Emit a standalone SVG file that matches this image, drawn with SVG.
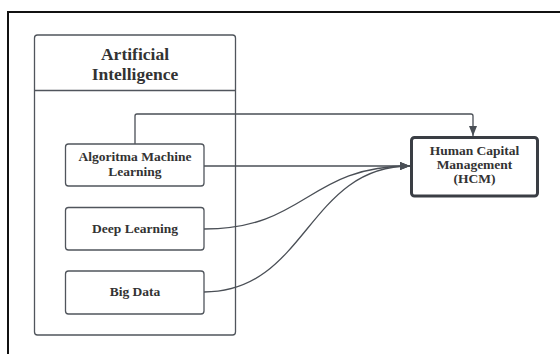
<svg xmlns="http://www.w3.org/2000/svg" width="560" height="354" viewBox="0 0 560 354">
  <defs>
    <style>
      .frame { fill: none; stroke: #111; stroke-width: 2; }
      .box { fill: #fff; stroke: #50555c; stroke-width: 1.3; }
      .hcm { fill: #fff; stroke: #3a3e44; stroke-width: 3; }
      .divider { stroke: #50555c; stroke-width: 1.3; }
      .wire { fill: none; stroke: #4a4f56; stroke-width: 1.3; }
      .label { font-family: "Liberation Serif", "Times New Roman", serif; font-weight: bold; fill: #333; text-anchor: middle; }
      .title { font-size: 17.5px; }
      .item { font-size: 13.5px; }
    </style>
    <marker id="arrow" viewBox="0 0 10 10" refX="10" refY="5" markerWidth="10" markerHeight="10" markerUnits="userSpaceOnUse" orient="auto">
      <path d="M0,1 L10,5 L0,9 Z" fill="#4a4f56"/>
    </marker>
  </defs>

  <rect width="560" height="354" fill="#fff"/>

  <!-- outer frame (top and left edges) -->
  <path class="frame" d="M8,354 V12 H560"/>

  <!-- Artificial Intelligence container -->
  <g id="ai-container">
    <rect class="box" x="34.5" y="35" width="201" height="300" rx="3"/>
    <line class="divider" x1="34.5" y1="90.5" x2="235.5" y2="90.5"/>
    <text class="label title" x="135" y="60">Artificial</text>
    <text class="label title" x="135" y="79.5">Intelligence</text>
  </g>

  <!-- connectors -->
  <g id="connectors">
    <path class="wire" d="M135,144 V116 Q135,114 137,114 H471 Q473,114 473,116 V136" marker-end="url(#arrow)"/>
    <path class="wire" d="M204,166 H410" marker-end="url(#arrow)"/>
    <path class="wire" d="M204,229 C307,229 307,166 410,166" marker-end="url(#arrow)"/>
    <path class="wire" d="M204,292 C307,292 307,166 410,166" marker-end="url(#arrow)"/>
  </g>

  <g id="node-algoritma">
    <rect class="box" x="65.5" y="144" width="138.5" height="42" rx="3"/>
    <text class="label item" x="135" y="160.8">Algoritma Machine</text>
    <text class="label item" x="135" y="175.5">Learning</text>
  </g>

  <g id="node-deep-learning">
    <rect class="box" x="65.5" y="207.5" width="138.5" height="42.5" rx="3"/>
    <text class="label item" x="135" y="232.5">Deep Learning</text>
  </g>

  <g id="node-big-data">
    <rect class="box" x="65.5" y="271" width="138.5" height="43" rx="3"/>
    <text class="label item" x="135" y="296">Big Data</text>
  </g>

  <g id="node-hcm">
    <rect class="hcm" x="411.5" y="137.5" width="126" height="58.5" rx="3"/>
    <text class="label item" x="474.5" y="155">Human Capital</text>
    <text class="label item" x="474.5" y="169">Management</text>
    <text class="label item" x="474.5" y="183">(HCM)</text>
  </g>
</svg>
